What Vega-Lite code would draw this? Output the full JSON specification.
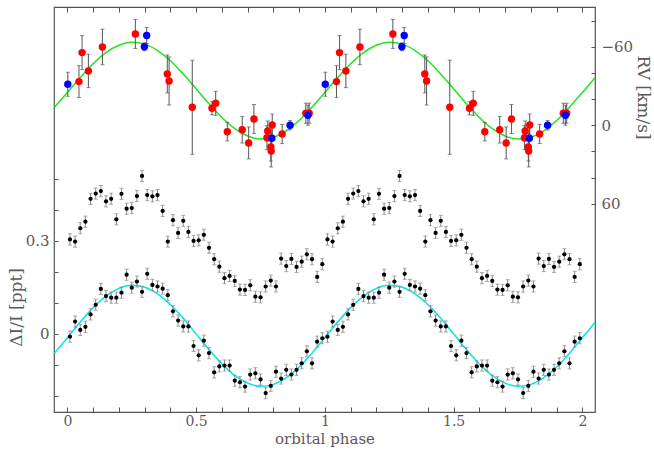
{
  "$schema": "https://vega.github.io/schema/vega-lite/v6.json",
  "width": 541,
  "height": 405,
  "autosize": {"type": "none"},
  "padding": {"left": 54, "top": 7, "right": 59, "bottom": 37},
  "background": "white",
  "config": {
    "view": {"stroke": "#555", "strokeWidth": 1.2},
    "axis": {
      "labelFont": "DejaVu Serif", "titleFont": "DejaVu Serif",
      "labelColor": "#5a5a5a", "titleColor": "#5a5a5a",
      "labelFontSize": 15, "titleFontSize": 17, "titleFontWeight": "normal",
      "grid": false, "domain": false, "tickColor": "#555", "tickWidth": 1,
      "labelOverlap": false, "labelFlush": false
    }
  },
  "datasets": {
    "lc": [
      {"p":0.01,"u":0.305,"l":-0.009,"e":0.018},{"p":0.03,"u":0.298,"l":0.040,"e":0.018},{"p":0.05,"u":0.341,"l":0.013,"e":0.018},{"p":0.07,"u":0.362,"l":0.023,"e":0.018},{"p":0.09,"u":0.436,"l":0.063,"e":0.018},
      {"p":0.11,"u":0.453,"l":0.094,"e":0.018},{"p":0.13,"u":0.461,"l":0.145,"e":0.018},{"p":0.15,"u":0.428,"l":0.122,"e":0.018},{"p":0.17,"u":0.436,"l":0.117,"e":0.018},{"p":0.19,"u":0.370,"l":0.117,"e":0.018},
      {"p":0.21,"u":0.452,"l":0.133,"e":0.018},{"p":0.23,"u":0.404,"l":0.191,"e":0.018},{"p":0.25,"u":0.406,"l":0.149,"e":0.018},{"p":0.27,"u":0.445,"l":0.169,"e":0.018},{"p":0.29,"u":0.510,"l":0.136,"e":0.018},
      {"p":0.31,"u":0.448,"l":0.194,"e":0.018},{"p":0.33,"u":0.444,"l":0.158,"e":0.018},{"p":0.35,"u":0.448,"l":0.153,"e":0.018},{"p":0.37,"u":0.397,"l":0.146,"e":0.018},{"p":0.39,"u":0.298,"l":0.125,"e":0.018},
      {"p":0.41,"u":0.367,"l":0.073,"e":0.018},{"p":0.43,"u":0.326,"l":0.043,"e":0.018},{"p":0.45,"u":0.365,"l":0.024,"e":0.018},{"p":0.47,"u":0.329,"l":0.024,"e":0.018},{"p":0.49,"u":0.300,"l":-0.039,"e":0.018},
      {"p":0.51,"u":0.302,"l":-0.069,"e":0.018},{"p":0.53,"u":0.320,"l":-0.022,"e":0.018},{"p":0.55,"u":0.278,"l":-0.062,"e":0.018},{"p":0.57,"u":0.241,"l":-0.124,"e":0.018},{"p":0.59,"u":0.217,"l":-0.105,"e":0.018},
      {"p":0.61,"u":0.180,"l":-0.102,"e":0.018},{"p":0.63,"u":0.187,"l":-0.102,"e":0.018},{"p":0.65,"u":0.171,"l":-0.151,"e":0.018},{"p":0.67,"u":0.143,"l":-0.156,"e":0.018},{"p":0.69,"u":0.142,"l":-0.170,"e":0.018},
      {"p":0.71,"u":0.157,"l":-0.131,"e":0.018},{"p":0.73,"u":0.120,"l":-0.127,"e":0.018},{"p":0.75,"u":0.118,"l":-0.147,"e":0.018},{"p":0.77,"u":0.153,"l":-0.191,"e":0.018},{"p":0.79,"u":0.172,"l":-0.168,"e":0.018},
      {"p":0.81,"u":0.153,"l":-0.122,"e":0.018},{"p":0.83,"u":0.243,"l":-0.144,"e":0.018},{"p":0.85,"u":0.219,"l":-0.116,"e":0.018},{"p":0.87,"u":0.242,"l":-0.131,"e":0.018},{"p":0.89,"u":0.216,"l":-0.116,"e":0.018},
      {"p":0.91,"u":0.233,"l":-0.095,"e":0.018},{"p":0.93,"u":0.257,"l":-0.056,"e":0.018},{"p":0.95,"u":0.241,"l":-0.095,"e":0.018},{"p":0.97,"u":0.184,"l":-0.025,"e":0.018},{"p":0.99,"u":0.225,"l":-0.014,"e":0.018},
      {"p":1.01,"u":0.305,"l":-0.009,"e":0.018},{"p":1.03,"u":0.298,"l":0.040,"e":0.018},{"p":1.05,"u":0.341,"l":0.013,"e":0.018},{"p":1.07,"u":0.362,"l":0.023,"e":0.018},{"p":1.09,"u":0.436,"l":0.063,"e":0.018},
      {"p":1.11,"u":0.453,"l":0.094,"e":0.018},{"p":1.13,"u":0.461,"l":0.145,"e":0.018},{"p":1.15,"u":0.428,"l":0.122,"e":0.018},{"p":1.17,"u":0.436,"l":0.117,"e":0.018},{"p":1.19,"u":0.370,"l":0.117,"e":0.018},
      {"p":1.21,"u":0.452,"l":0.133,"e":0.018},{"p":1.23,"u":0.404,"l":0.191,"e":0.018},{"p":1.25,"u":0.406,"l":0.149,"e":0.018},{"p":1.27,"u":0.445,"l":0.169,"e":0.018},{"p":1.29,"u":0.510,"l":0.136,"e":0.018},
      {"p":1.31,"u":0.448,"l":0.194,"e":0.018},{"p":1.33,"u":0.444,"l":0.158,"e":0.018},{"p":1.35,"u":0.448,"l":0.153,"e":0.018},{"p":1.37,"u":0.397,"l":0.146,"e":0.018},{"p":1.39,"u":0.298,"l":0.125,"e":0.018},
      {"p":1.41,"u":0.367,"l":0.073,"e":0.018},{"p":1.43,"u":0.326,"l":0.043,"e":0.018},{"p":1.45,"u":0.365,"l":0.024,"e":0.018},{"p":1.47,"u":0.329,"l":0.024,"e":0.018},{"p":1.49,"u":0.300,"l":-0.039,"e":0.018},
      {"p":1.51,"u":0.302,"l":-0.069,"e":0.018},{"p":1.53,"u":0.320,"l":-0.022,"e":0.018},{"p":1.55,"u":0.278,"l":-0.062,"e":0.018},{"p":1.57,"u":0.241,"l":-0.124,"e":0.018},{"p":1.59,"u":0.217,"l":-0.105,"e":0.018},
      {"p":1.61,"u":0.180,"l":-0.102,"e":0.018},{"p":1.63,"u":0.187,"l":-0.102,"e":0.018},{"p":1.65,"u":0.171,"l":-0.151,"e":0.018},{"p":1.67,"u":0.143,"l":-0.156,"e":0.018},{"p":1.69,"u":0.142,"l":-0.170,"e":0.018},
      {"p":1.71,"u":0.157,"l":-0.131,"e":0.018},{"p":1.73,"u":0.120,"l":-0.127,"e":0.018},{"p":1.75,"u":0.118,"l":-0.147,"e":0.018},{"p":1.77,"u":0.153,"l":-0.191,"e":0.018},{"p":1.79,"u":0.172,"l":-0.168,"e":0.018},
      {"p":1.81,"u":0.153,"l":-0.122,"e":0.018},{"p":1.83,"u":0.243,"l":-0.144,"e":0.018},{"p":1.85,"u":0.219,"l":-0.116,"e":0.018},{"p":1.87,"u":0.242,"l":-0.131,"e":0.018},{"p":1.89,"u":0.216,"l":-0.116,"e":0.018},
      {"p":1.91,"u":0.233,"l":-0.095,"e":0.018},{"p":1.93,"u":0.257,"l":-0.056,"e":0.018},{"p":1.95,"u":0.241,"l":-0.095,"e":0.018},{"p":1.97,"u":0.184,"l":-0.025,"e":0.018},{"p":1.99,"u":0.225,"l":-0.014,"e":0.018}
    ],
    "fit": [
      {"p":-0.05,"v":-0.0622,"rv":-13.8},{"p":0.0,"v":-0.0121,"rv":-25.1},{"p":0.05,"v":0.0385,"rv":-36.6},{"p":0.1,"v":0.0848,"rv":-47.1},{"p":0.15,"v":0.1222,"rv":-55.6},
      {"p":0.2,"v":0.1470,"rv":-61.2},{"p":0.25,"v":0.1569,"rv":-63.5},{"p":0.3,"v":0.1508,"rv":-62.1},{"p":0.35,"v":0.1293,"rv":-57.2},{"p":0.4,"v":0.0947,"rv":-49.4},
      {"p":0.45,"v":0.0502,"rv":-39.2},{"p":0.5,"v":0.0001,"rv":-27.9},{"p":0.55,"v":-0.0505,"rv":-16.4},{"p":0.6,"v":-0.0968,"rv":-5.9},{"p":0.65,"v":-0.1342,"rv":2.6},
      {"p":0.7,"v":-0.1590,"rv":8.2},{"p":0.75,"v":-0.1689,"rv":10.5},{"p":0.8,"v":-0.1628,"rv":9.1},{"p":0.85,"v":-0.1413,"rv":4.2},{"p":0.9,"v":-0.1067,"rv":-3.6},
      {"p":0.95,"v":-0.0622,"rv":-13.8},{"p":1.0,"v":-0.0121,"rv":-25.1},{"p":1.05,"v":0.0385,"rv":-36.6},{"p":1.1,"v":0.0848,"rv":-47.1},{"p":1.15,"v":0.1222,"rv":-55.6},
      {"p":1.2,"v":0.1470,"rv":-61.2},{"p":1.25,"v":0.1569,"rv":-63.5},{"p":1.3,"v":0.1508,"rv":-62.1},{"p":1.35,"v":0.1293,"rv":-57.2},{"p":1.4,"v":0.0947,"rv":-49.4},
      {"p":1.45,"v":0.0502,"rv":-39.2},{"p":1.5,"v":0.0001,"rv":-27.9},{"p":1.55,"v":-0.0505,"rv":-16.4},{"p":1.6,"v":-0.0968,"rv":-5.9},{"p":1.65,"v":-0.1342,"rv":2.6},
      {"p":1.7,"v":-0.1590,"rv":8.2},{"p":1.75,"v":-0.1689,"rv":10.5},{"p":1.8,"v":-0.1628,"rv":9.1},{"p":1.85,"v":-0.1413,"rv":4.2},{"p":1.9,"v":-0.1067,"rv":-3.6},
      {"p":1.95,"v":-0.0622,"rv":-13.8},{"p":2.0,"v":-0.0121,"rv":-25.1},{"p":2.05,"v":0.0385,"rv":-36.6}
    ],
    "rv": [
      {"p":0.045,"rv":-33.4,"err":12.2,"s":"A"},{"p":0.057,"rv":-55.6,"err":13.0,"s":"A"},{"p":0.0815,"rv":-41.6,"err":12.8,"s":"A"},{"p":0.136,"rv":-59.9,"err":13.6,"s":"A"},
      {"p":0.264,"rv":-69.9,"err":11.1,"s":"A"},{"p":0.388,"rv":-39.3,"err":14.5,"s":"A"},{"p":0.395,"rv":-33.9,"err":18.4,"s":"A"},{"p":0.485,"rv":-13.8,"err":36.0,"s":"A"},
      {"p":0.5615,"rv":-13.0,"err":5.0,"s":"A"},{"p":0.576,"rv":-16.8,"err":9.2,"s":"A"},{"p":0.621,"rv":4.9,"err":7.1,"s":"A"},{"p":0.679,"rv":3.4,"err":10.2,"s":"A"},
      {"p":0.704,"rv":13.5,"err":12.2,"s":"A"},{"p":0.7245,"rv":-4.8,"err":11.1,"s":"A"},{"p":0.778,"rv":4.4,"err":7.7,"s":"A"},{"p":0.775,"rv":9.5,"err":9.2,"s":"A"},
      {"p":0.7955,"rv":-0.2,"err":8.4,"s":"A"},{"p":0.790,"rv":16.6,"err":10.7,"s":"A"},{"p":0.7915,"rv":19.7,"err":12.2,"s":"A"},{"p":0.834,"rv":6.7,"err":7.3,"s":"A"},
      {"p":0.926,"rv":-9.2,"err":7.7,"s":"A"},{"p":0.939,"rv":-9.2,"err":7.7,"s":"A"},
      {"p":1.045,"rv":-33.4,"err":12.2,"s":"A"},{"p":1.057,"rv":-55.6,"err":13.0,"s":"A"},{"p":1.0815,"rv":-41.6,"err":12.8,"s":"A"},{"p":1.136,"rv":-59.9,"err":13.6,"s":"A"},
      {"p":1.264,"rv":-69.9,"err":11.1,"s":"A"},{"p":1.388,"rv":-39.3,"err":14.5,"s":"A"},{"p":1.395,"rv":-33.9,"err":18.4,"s":"A"},{"p":1.485,"rv":-13.8,"err":36.0,"s":"A"},
      {"p":1.5615,"rv":-13.0,"err":5.0,"s":"A"},{"p":1.576,"rv":-16.8,"err":9.2,"s":"A"},{"p":1.621,"rv":4.9,"err":7.1,"s":"A"},{"p":1.679,"rv":3.4,"err":10.2,"s":"A"},
      {"p":1.704,"rv":13.5,"err":12.2,"s":"A"},{"p":1.7245,"rv":-4.8,"err":11.1,"s":"A"},{"p":1.778,"rv":4.4,"err":7.7,"s":"A"},{"p":1.775,"rv":9.5,"err":9.2,"s":"A"},
      {"p":1.7955,"rv":-0.2,"err":8.4,"s":"A"},{"p":1.790,"rv":16.6,"err":10.7,"s":"A"},{"p":1.7915,"rv":19.7,"err":12.2,"s":"A"},{"p":1.834,"rv":6.7,"err":7.3,"s":"A"},
      {"p":1.926,"rv":-9.2,"err":7.7,"s":"A"},{"p":1.939,"rv":-9.2,"err":7.7,"s":"A"},
      {"p":0.0016,"rv":-31.4,"err":9.2,"s":"B"},{"p":0.308,"rv":-68.7,"err":6.1,"s":"B"},{"p":0.299,"rv":-60.1,"err":3.0,"s":"B"},{"p":0.794,"rv":9.9,"err":8.4,"s":"B"},
      {"p":0.865,"rv":0.0,"err":3.6,"s":"B"},{"p":0.934,"rv":-7.7,"err":7.7,"s":"B"},
      {"p":1.0016,"rv":-31.4,"err":9.2,"s":"B"},{"p":1.308,"rv":-68.7,"err":6.1,"s":"B"},{"p":1.299,"rv":-60.1,"err":3.0,"s":"B"},{"p":1.794,"rv":9.9,"err":8.4,"s":"B"},
      {"p":1.865,"rv":0.0,"err":3.6,"s":"B"},{"p":1.934,"rv":-7.7,"err":7.7,"s":"B"}
    ]
  },
  "layer": [
    {
      "encoding": {
        "x": {
          "field": "p", "type": "quantitative", "title": "orbital phase",
          "scale": {"domain": [-0.052, 2.049], "nice": false, "zero": false},
          "axis": {
            "orient": "bottom",
            "values": [0,0.1,0.2,0.3,0.4,0.5,0.6,0.7,0.8,0.9,1,1.1,1.2,1.3,1.4,1.5,1.6,1.7,1.8,1.9,2],
            "format": "~g",
            "labelExpr": "(round(datum.value*10)%5==0) ? datum.label : ''",
            "tickSize": -5, "labelPadding": 7, "labelFontSize": 14,
            "titleY": 26, "titleBaseline": "middle", "titleAlign": "center", "titleFontSize": 15
          }
        }
      },
      "layer": [
        {
          "data": {"name": "fit"},
          "mark": {"type": "line", "color": "#00e6e6", "strokeWidth": 1.5, "interpolate": "monotone", "clip": true},
          "encoding": {
            "y": {
              "field": "v", "type": "quantitative", "title": "ΔI/I [ppt]",
              "scale": {"domain": [-0.252, 1.055], "nice": false, "zero": false},
              "axis": {
                "orient": "left",
                "values": [-0.2,-0.15,-0.1,-0.05,0,0.05,0.1,0.15,0.2,0.25,0.3,0.35,0.4,0.45,0.5],
                "format": "~g",
                "labelExpr": "(datum.value==0 || datum.value==0.3) ? datum.label : ''",
                "tickSize": -4, "labelPadding": 9,
                "titleAngle": -90, "titleX": -38, "titleY": 300,
                "titleAlign": "center", "titleBaseline": "middle"
              }
            }
          }
        },
        {
          "data": {"name": "lc"},
          "mark": {"type": "errorbar", "ticks": {"size": 4}, "color": "#8a8a8a", "thickness": 1},
          "encoding": {"y": {"field": "u", "type": "quantitative", "title": "ΔI/I [ppt]"}, "yError": {"field": "e"}}
        },
        {
          "data": {"name": "lc"},
          "mark": {"type": "errorbar", "ticks": {"size": 4}, "color": "#8a8a8a", "thickness": 1},
          "encoding": {"y": {"field": "l", "type": "quantitative", "title": "ΔI/I [ppt]"}, "yError": {"field": "e"}}
        },
        {
          "data": {"name": "lc"},
          "mark": {"type": "circle", "size": 18, "color": "black", "opacity": 1},
          "encoding": {"y": {"field": "u", "type": "quantitative", "title": "ΔI/I [ppt]"}}
        },
        {
          "data": {"name": "lc"},
          "mark": {"type": "circle", "size": 18, "color": "black", "opacity": 1},
          "encoding": {"y": {"field": "l", "type": "quantitative", "title": "ΔI/I [ppt]"}}
        }
      ]
    },
    {
      "encoding": {
        "x": {
          "field": "p", "type": "quantitative", "title": null,
          "axis": {
            "orient": "top",
            "values": [0,0.1,0.2,0.3,0.4,0.5,0.6,0.7,0.8,0.9,1,1.1,1.2,1.3,1.4,1.5,1.6,1.7,1.8,1.9,2],
            "labels": false, "tickSize": -5, "title": null
          }
        }
      },
      "layer": [
        {
          "data": {"name": "fit"},
          "mark": {"type": "line", "color": "#1ee61e", "strokeWidth": 1.5, "interpolate": "monotone", "clip": true},
          "encoding": {
            "y": {
              "field": "rv", "type": "quantitative", "title": "RV [km/s]",
              "scale": {"domain": [-90.5, 219.4], "nice": false, "zero": false, "reverse": true},
              "axis": {
                "orient": "right",
                "values": [-80,-70,-60,-50,-40,-30,-20,-10,0,10,20,30,40,50,60],
                "format": "~g",
                "labelExpr": "(datum.value%30==0) ? datum.label : ''",
                "tickSize": -4, "labelPadding": 10,
                "titleAngle": 90, "titleX": 47, "titleY": 90,
                "titleAlign": "center", "titleBaseline": "middle"
              }
            }
          }
        },
        {
          "data": {"name": "rv"},
          "mark": {"type": "errorbar", "ticks": {"size": 4}, "color": "#555", "thickness": 1},
          "encoding": {"y": {"field": "rv", "type": "quantitative", "title": "RV [km/s]"}, "yError": {"field": "err"}}
        },
        {
          "data": {"name": "rv"},
          "mark": {"type": "circle", "size": 55, "opacity": 1},
          "encoding": {
            "y": {"field": "rv", "type": "quantitative", "title": "RV [km/s]"},
            "color": {"field": "s", "type": "nominal", "scale": {"domain": ["A", "B"], "range": ["#ff0000", "#0000ff"]}, "legend": null}
          }
        }
      ]
    }
  ],
  "resolve": {"scale": {"y": "independent"}, "axis": {"x": "independent", "y": "independent"}}
}
